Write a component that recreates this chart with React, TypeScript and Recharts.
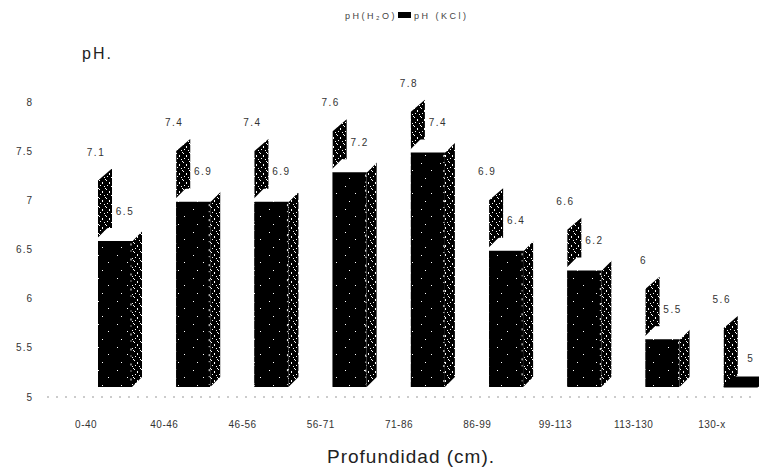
import React from 'react';
import { BarChart, Bar, XAxis, YAxis } from 'recharts';

const categories = ['0-40', '40-46', '46-56', '56-71', '71-86', '86-99', '99-113', '113-130', '130-x'];
const phH2O = [7.1, 7.4, 7.4, 7.6, 7.8, 6.9, 6.6, 6, 5.6];
const phKCl = [6.5, 6.9, 6.9, 7.2, 7.4, 6.4, 6.2, 5.5, 5];
const yTicks = [5, 5.5, 6, 6.5, 7, 7.5, 8];

const data = categories.map((cat, i) => ({ cat, h2o: phH2O[i], kcl: phKCl[i] }));

const DX = 29; // 3D projection shift
const D = 10; // depth
const FONT = '"Liberation Sans", Arial, sans-serif';

const labelStyle = { fontSize: 10, fill: '#333', letterSpacing: 1.5, fontFamily: FONT };

const H2OShape = (props: any) => {
  const { x, y, width, height, payload } = props;
  const x0 = x + DX;
  const top = y - D;
  const floor = y + height - D;
  const pts = `${x0},${top} ${x0 + width},${top - 12} ${x0 + width},${floor - 12} ${x0},${floor}`;
  return (
    <g>
      <polygon points={pts} fill="url(#speckSide)" />
      <text x={x0 - 2} y={y - 35} textAnchor="middle" style={labelStyle}>
        {String(payload.h2o)}
      </text>
    </g>
  );
};

const KClShape = (props: any) => {
  const { x, y, width, height, payload } = props;
  const x0 = x + DX;
  const top = y - D;
  const floor = y + height - D;
  const w = width;
  const flat = height < 1;
  const topPts = `${x0},${top} ${x0 + D},${top - D} ${x0 + w + D},${top - D} ${x0 + w},${top}`;
  const sidePts = `${x0 + w},${top} ${x0 + w + D},${top - D} ${x0 + w + D},${floor - D} ${x0 + w},${floor}`;
  return (
    <g>
      {!flat && <rect x={x0} y={top} width={w} height={floor - top} fill="url(#speckFront)" />}
      {!flat && <polygon points={sidePts} fill="url(#speckSide)" />}
      {!flat && (
        <line x1={x0 + w - 1} y1={top + 4} x2={x0 + w - 1} y2={floor - 2} stroke="#fff" strokeWidth={1} strokeDasharray="2 5 1 7" />
      )}
      <polygon
        points={topPts}
        fill={flat ? '#000' : '#fff'}
        stroke={flat ? '#000' : '#fff'}
        strokeWidth={flat ? 1 : 3}
        strokeLinejoin="round"
      />
      <text x={x0 + 27} y={y - 35} textAnchor="middle" style={labelStyle}>
        {String(payload.kcl)}
      </text>
    </g>
  );
};

export default function App() {
  return (
    <div style={{ position: 'absolute', left: 0, top: 0, width: 759, height: 471, background: '#fff', fontFamily: FONT }}>
      <BarChart
        width={759}
        height={471}
        data={data}
        margin={{ top: 102, right: 8, bottom: 34, left: 7 }}
        barGap={-14}
        barCategoryGap={0}
      >
        <defs>
          <pattern id="speckSide" width="7" height="9" patternUnits="userSpaceOnUse">
            <rect width="7" height="9" fill="#000" />
            <rect x="1" y="0" width="1" height="1" fill="#fff" />
            <rect x="4" y="2" width="1" height="2" fill="#fff" />
            <rect x="2" y="5" width="1" height="1" fill="#fff" />
            <rect x="6" y="6" width="1" height="1" fill="#fff" />
            <rect x="0" y="8" width="1" height="1" fill="#fff" />
          </pattern>
          <pattern id="speckFront" width="19" height="23" patternUnits="userSpaceOnUse">
            <rect width="19" height="23" fill="#000" />
            <rect x="3" y="2" width="1" height="1" fill="#fff" />
            <rect x="13" y="9" width="1" height="1" fill="#fff" />
            <rect x="7" y="17" width="1" height="1" fill="#fff" />
          </pattern>
        </defs>
        <XAxis
          dataKey="cat"
          height={40}
          tickSize={0}
          tickMargin={24}
          axisLine={{ stroke: '#999', strokeDasharray: '2 7' }}
          tick={{ fontSize: 10, fill: '#333', fontFamily: FONT, letterSpacing: 0.5 }}
          interval={0}
        />
        <YAxis
          type="number"
          domain={[5, 8]}
          ticks={yTicks}
          width={40}
          tickSize={0}
          tickMargin={14}
          axisLine={false}
          tickLine={false}
          tick={{ fontSize: 10, fill: '#333', fontFamily: FONT, letterSpacing: 1 }}
        />
        <Bar dataKey="h2o" barSize={14} shape={<H2OShape />} isAnimationActive={false} />
        <Bar dataKey="kcl" barSize={34} shape={<KClShape />} isAnimationActive={false} />
      </BarChart>
      <div
        style={{
          position: 'absolute',
          left: 345,
          top: 10,
          fontSize: 9,
          color: '#444',
          letterSpacing: 2.5,
          whiteSpace: 'nowrap',
          lineHeight: '12px',
        }}
      >
        <span>pH(H₂O)</span>
        <span style={{ display: 'inline-block', width: 13, height: 6, background: '#000', margin: '0 3px 1px 1px' }} />
        <span>pH (KCl)</span>
      </div>
      <div
        style={{
          position: 'absolute',
          left: 82,
          top: 44,
          fontSize: 16,
          color: '#222',
          letterSpacing: 2,
          whiteSpace: 'nowrap',
          lineHeight: '20px',
        }}
      >
        pH.
      </div>
      <div
        style={{
          position: 'absolute',
          left: 0,
          width: 822,
          top: 445,
          textAlign: 'center',
          fontSize: 19,
          color: '#222',
          letterSpacing: 1,
          whiteSpace: 'nowrap',
          lineHeight: '24px',
        }}
      >
        Profundidad (cm).
      </div>
    </div>
  );
}
